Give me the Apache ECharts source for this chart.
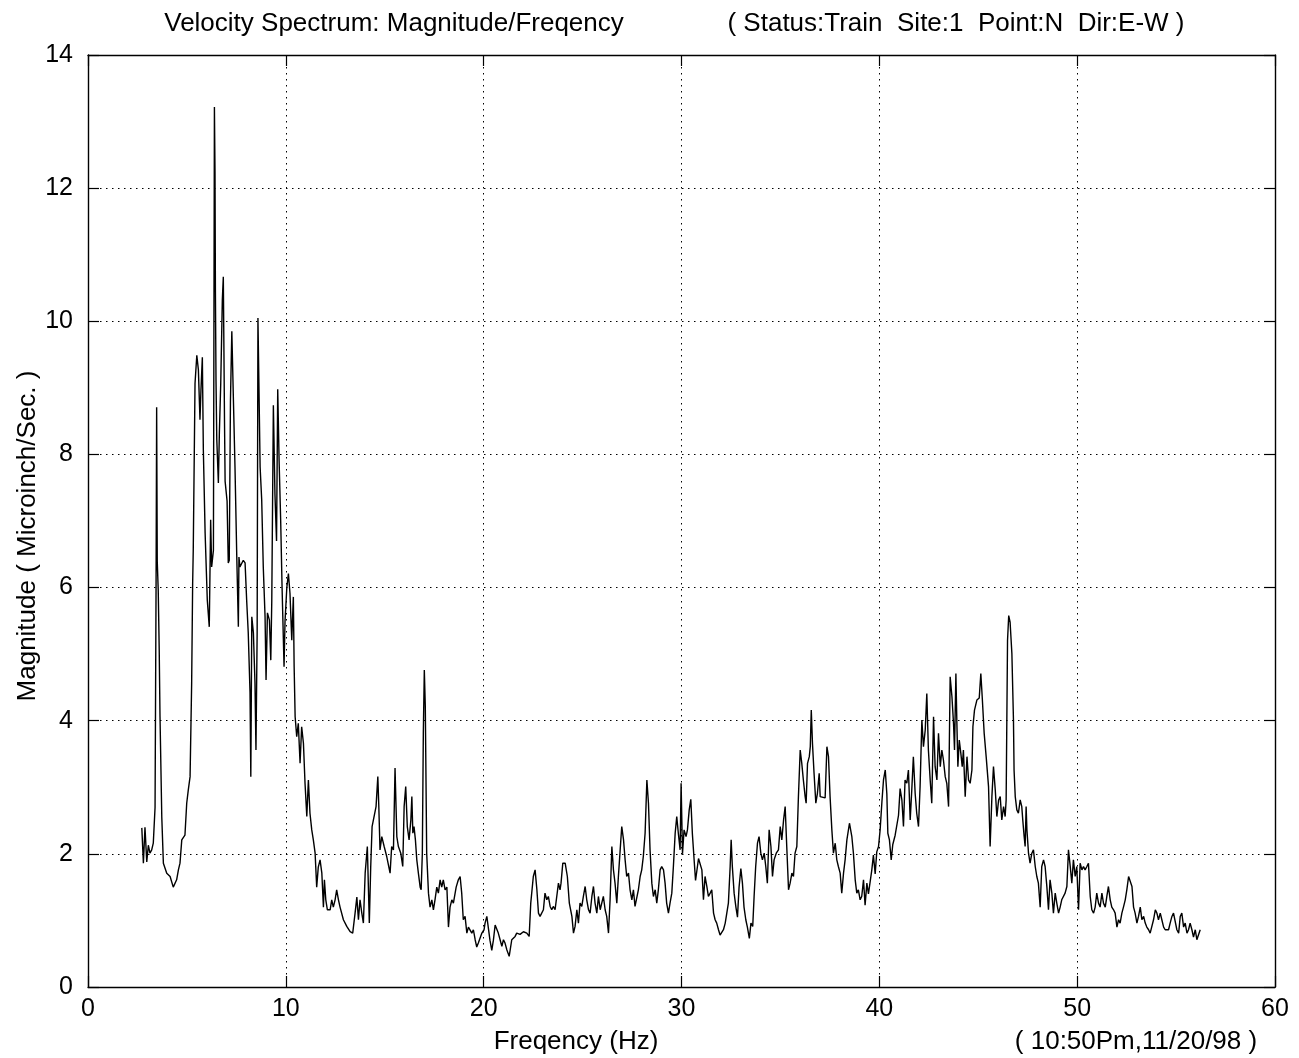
<!DOCTYPE html>
<html>
<head>
<meta charset="utf-8">
<script src="https://cdn.jsdelivr.net/npm/echarts@6/dist/echarts.min.js"></script>
<style>
html,body{margin:0;padding:0;background:#fff;}
#chart{width:1299px;height:1058px;}
</style>
</head>
<body>
<div id="chart"></div>
<script>
// ---- data: [frequency (Hz), magnitude (microinch/sec)] ----
const bandLow = [
[2.72,2.39],[2.80,1.86],[2.88,2.40],[2.97,1.88],[3.05,2.13],[3.13,2.01],[3.22,2.06],[3.30,2.16],[3.39,2.70],[3.44,6.0],[3.47,8.71],[3.50,6.4],[3.55,5.96],[3.60,5.06],[3.64,4.06],[3.73,2.55],[3.81,1.86],[3.98,1.71],[4.15,1.66],[4.31,1.50],[4.48,1.61],[4.57,1.76],[4.65,1.86],[4.74,2.21],[4.90,2.28],[4.99,2.76],[5.07,2.96],[5.16,3.16],[5.24,4.57],[5.29,6.07],[5.32,6.56],[5.41,9.07],[5.50,9.49],[5.58,9.27],[5.66,8.52],[5.71,8.97],[5.78,9.46],[5.83,8.07],[5.92,6.82],[6.03,5.81],[6.13,5.41],[6.20,7.02],[6.25,6.31],[6.34,6.56],[6.39,13.22],[6.42,12.23],[6.44,10.47],[6.47,9.12],[6.51,8.22],[6.59,7.57],[6.64,8.32],[6.71,9.07],[6.79,10.32],[6.84,10.67],[6.90,8.5],[6.93,7.6],[7.03,7.3],[7.09,6.37],[7.14,6.41],[7.20,8.8],[7.27,9.85],[7.35,8.82],[7.43,7.81],[7.52,6.46],[7.60,5.41],[7.63,6.46],[7.68,6.31],[7.77,6.31],[7.85,6.41],[7.94,6.37],[8.02,5.81],[8.10,5.32],[8.19,4.42],[8.23,3.16],[8.28,5.56],[8.36,5.32],[8.44,4.57],[8.49,3.56],[8.55,5.32],[8.59,10.05],[8.70,7.81],[8.78,7.32],[8.86,6.31],[8.95,5.56],[9.00,4.61],[9.07,5.62],[9.17,5.51],[9.24,4.91],[9.29,5.81],[9.37,8.74],[9.45,7.4],[9.53,6.7],[9.59,8.98],[9.66,7.9],[9.74,7.0],[9.81,6.0],[9.91,4.81],[9.96,5.5],[10.05,6.0],[10.13,6.21],[10.21,5.91],[10.30,5.21],[10.38,5.86],[10.42,4.81],[10.47,4.06],[10.55,3.76],[10.63,3.96],[10.72,3.36],[10.80,3.91],[10.89,3.66],[10.97,3.06],[11.06,2.56],[11.14,3.11],[11.22,2.61],[11.31,2.36],[11.39,2.21],[11.48,2.01],[11.56,1.50],[11.64,1.80],[11.73,1.91],[11.82,1.71],[11.90,1.20],[11.95,1.61]
];
const bandMid = [
[12.02,1.31],[12.10,1.16],[12.24,1.16],[12.32,1.31],[12.40,1.20],[12.49,1.31],[12.57,1.46],[12.66,1.31],[12.74,1.20],[12.91,1.01],[13.08,0.91],[13.25,0.83],[13.38,0.81],[13.50,1.11],[13.59,1.35],[13.67,1.01],[13.75,1.31],[13.84,1.11],[13.92,0.96],[14.01,1.71],[14.12,2.11],[14.22,0.96],[14.29,1.80],[14.36,2.41],[14.46,2.41],[14.56,2.71],[14.65,3.16],[14.70,2.71],[14.76,2.06],[14.85,2.26],[14.97,2.11],[15.10,1.96],[15.27,1.71],[15.35,2.11],[15.44,2.06],[15.52,3.29],[15.61,2.26],[15.69,2.11],[15.81,2.01],[15.91,1.81],[15.98,2.71],[16.06,3.01],[16.14,2.41],[16.23,2.21],[16.32,2.51],[16.37,2.86],[16.42,2.31],[16.48,2.41],[16.55,2.21],[16.62,1.91],[16.70,1.71],[16.79,1.50],[16.84,1.46],[16.90,2.01],[16.95,3.81],[17.00,4.76],[17.05,4.21],[17.12,2.01],[17.21,1.41],[17.29,1.20],[17.38,1.31],[17.46,1.16],[17.54,1.31],[17.63,1.50],[17.71,1.41],[17.80,1.61],[17.88,1.50],[17.96,1.61],[18.05,1.46],[18.14,1.50],[18.22,0.90],[18.30,1.20],[18.39,1.31],[18.47,1.26],[18.61,1.50],[18.72,1.61],[18.81,1.66],[18.89,1.41],[18.97,1.01],[19.06,1.06],[19.15,0.81],[19.23,0.90],[19.31,0.90],[19.40,0.81],[19.48,0.86],[19.57,0.71],[19.65,0.60],[19.73,0.66],[19.82,0.65],[19.91,0.81],[20.02,0.86],[20.07,0.96],[20.16,1.06],[20.24,1.06],[20.32,0.70],[20.41,0.55],[20.49,0.70],[20.58,0.93],[20.66,0.90],[20.74,0.81],[20.83,0.71],[20.92,0.61],[21.00,0.71],[21.08,0.66],[21.17,0.56],[21.29,0.46],[21.42,0.71],[21.59,0.76],[21.67,0.81],[21.76,0.81],[21.84,0.79],[22.01,0.83],[22.18,0.81],[22.30,0.76],[22.38,1.26],[22.51,1.66],[22.60,1.76],[22.69,1.46],[22.77,1.11],[22.85,1.06],[22.94,1.06],[23.02,1.16],[23.10,1.41],[23.19,1.31],[23.27,1.36],[23.36,1.21],[23.44,1.16],[23.52,1.21],[23.61,1.16],[23.70,1.16],[23.78,1.56],[23.86,1.46],[23.91,1.56],[24.00,1.86],[24.12,1.86],[24.23,1.66],[24.33,1.26],[24.46,1.06],[24.54,0.81],[24.62,0.91],[24.71,1.16],[24.79,0.96],[24.87,1.26],[24.96,1.21],[25.04,1.36],[25.13,1.51],[25.21,1.31],[25.30,1.16],[25.38,1.11],[25.47,1.36],[25.55,1.51],[25.63,1.26],[25.72,1.11],[25.80,1.36],[25.89,1.16],[25.97,1.16],[26.05,1.36],[26.14,1.16],[26.22,1.06],[26.31,0.81],[26.39,1.31],[26.48,2.11],[26.56,1.76],[26.64,1.56],[26.73,1.26],[26.81,1.66],[26.90,2.06],[26.98,2.41],[27.07,2.21],[27.15,1.91],[27.23,1.66],[27.32,1.71],[27.40,1.46],[27.49,1.31],[27.57,1.46],[27.65,1.21],[27.74,1.21],[27.82,1.46],[27.91,1.66],[27.99,1.76],[28.07,1.96],[28.16,2.31],[28.25,3.11],[28.33,2.76],[28.41,2.06],[28.50,1.56],[28.58,1.36],[28.67,1.46],[28.75,1.26],[28.83,1.46],[28.92,1.76],[29.00,1.81],[29.09,1.76],[29.17,1.56],[29.25,1.26],[29.34,1.11],[29.42,1.26],[29.51,1.41],[29.59,1.81],[29.68,2.31],[29.76,2.56],[29.84,2.31],[29.93,2.06]
];
const bandHigh = [
[29.98,3.06],[30.05,2.00],[30.13,2.36],[30.23,2.26],[30.30,2.36],[30.39,2.66],[30.47,2.82],[30.55,2.30],[30.64,1.90],[30.71,1.60],[30.77,1.60],[30.86,1.93],[30.94,1.91],[31.03,1.76],[31.11,1.31],[31.19,1.66],[31.28,1.51],[31.36,1.36],[31.45,1.41],[31.53,1.46],[31.62,1.11],[31.70,1.01],[31.78,0.96],[31.87,0.86],[31.95,0.78],[32.04,0.78],[32.12,0.86],[32.21,0.96],[32.29,1.11],[32.37,1.26],[32.46,1.81],[32.51,2.21],[32.57,1.81],[32.66,1.41],[32.75,1.20],[32.83,1.05],[32.91,1.50],[33.00,1.78],[33.08,1.56],[33.16,1.20],[33.25,1.01],[33.33,0.90],[33.43,0.73],[33.51,0.96],[33.60,0.91],[33.67,1.36],[33.75,1.81],[33.84,2.16],[33.92,2.26],[34.01,2.01],[34.09,1.91],[34.18,2.01],[34.26,1.81],[34.34,1.56],[34.43,2.36],[34.52,2.11],[34.60,1.66],[34.68,1.91],[34.79,2.01],[34.90,2.06],[34.99,2.41],[35.07,2.21],[35.16,2.51],[35.24,2.71],[35.32,2.11],[35.41,1.46],[35.49,1.56],[35.58,1.71],[35.66,1.66],[35.74,2.01],[35.83,2.11],[35.91,2.86],[36.00,3.56],[36.08,3.36],[36.16,3.11],[36.25,2.86],[36.30,2.76],[36.37,3.36],[36.46,3.46],[36.51,3.61],[36.56,4.16],[36.62,3.66],[36.70,3.21],[36.79,2.76],[36.87,2.91],[36.96,3.21],[37.01,2.86],[37.09,2.84],[37.26,2.84],[37.35,3.61],[37.43,3.46],[37.51,2.86],[37.60,2.36],[37.68,2.01],[37.77,2.16],[37.85,1.91],[37.93,1.81],[38.02,1.71],[38.10,1.41],[38.19,1.71],[38.27,1.91],[38.36,2.21],[38.49,2.46],[38.61,2.26],[38.69,2.01],[38.78,1.61],[38.86,1.41],[38.94,1.46],[39.03,1.31],[39.11,1.36],[39.20,1.61],[39.28,1.23],[39.37,1.56],[39.45,1.40],[39.54,1.40],[39.62,1.76],[39.70,1.98],[39.79,1.70],[39.87,2.03],[39.96,2.11],[40.04,2.36],[40.13,2.78],[40.21,3.11],[40.30,3.26],[40.38,2.90],[40.43,2.31],[40.51,2.21],[40.60,1.91],[40.68,2.14],[40.80,2.28],[40.89,2.28],[40.97,2.58],[41.05,2.98],[41.14,2.81],[41.22,2.41],[41.30,3.11],[41.39,3.06],[41.47,3.26],[41.56,2.51],[41.64,2.96],[41.72,3.46],[41.81,2.91],[41.89,2.61],[41.98,2.41],[42.06,3.01],[42.15,4.01],[42.23,3.61],[42.32,3.86],[42.40,4.41],[42.48,3.56],[42.57,3.11],[42.65,2.76],[42.74,4.06],[42.82,3.31],[42.91,3.11],[42.99,3.81],[43.08,3.31],[43.16,3.56],[43.24,3.41],[43.33,3.16],[43.41,3.06],[43.50,2.71],[43.58,4.66],[43.67,4.36],[43.75,3.96],[43.80,3.56],[43.87,4.71],[43.92,3.96],[43.97,3.31],[44.04,3.71],[44.12,3.51],[44.19,3.31],[44.25,3.56],[44.34,2.86],[44.43,3.46],[44.51,3.11],[44.59,3.06],[44.68,3.26],[44.73,3.91],[44.81,4.16],[44.93,4.31],[45.05,4.34],[45.13,4.71],[45.20,4.36],[45.30,3.81],[45.40,3.46],[45.52,3.01],[45.60,2.11],[45.69,2.86],[45.77,3.31],[45.86,2.96],[45.94,2.56],[46.03,2.81],[46.11,2.86],[46.19,2.51],[46.28,2.71],[46.36,2.56],[46.41,2.81],[46.48,5.21],[46.54,5.58],[46.61,5.48],[46.70,5.01],[46.78,4.01],[46.81,3.26],[46.87,2.86],[46.95,2.66],[47.03,2.61],[47.12,2.81],[47.20,2.71],[47.25,2.51],[47.32,2.26],[47.37,2.11],[47.42,2.71],[47.46,2.36],[47.54,2.01],[47.62,1.86],[47.71,2.01],[47.79,2.06],[47.88,1.81],[47.96,1.66],[48.04,1.56],[48.13,1.20],[48.21,1.81],[48.30,1.91],[48.38,1.81],[48.47,1.50],[48.55,1.16],[48.63,1.61],[48.72,1.41],[48.80,1.11],[48.89,1.41],[48.97,1.26],[49.06,1.11],[49.14,1.20],[49.22,1.31],[49.31,1.31],[49.39,1.41],[49.48,1.51],[49.56,2.06],[49.65,1.81],[49.73,1.56],[49.81,1.91],[49.90,1.66],[49.98,1.81],[50.07,1.16],[50.15,1.86],[50.24,1.76],[50.32,1.81],[50.40,1.76],[50.49,1.81],[50.57,1.86],[50.66,1.36],[50.74,1.16],[50.83,1.11],[50.91,1.20],[50.99,1.41],[51.08,1.26],[51.16,1.20],[51.25,1.41],[51.33,1.26],[51.42,1.20],[51.50,1.36],[51.58,1.51],[51.67,1.31],[51.75,1.20],[51.84,1.16],[51.92,1.11],[52.01,0.90],[52.09,1.01],[52.17,0.96],[52.26,1.11],[52.34,1.20],[52.43,1.31],[52.51,1.46],[52.60,1.66],[52.68,1.66],[52.77,1.51],[52.85,1.20],[52.93,1.11],[53.02,0.96],[53.10,1.06],[53.19,1.20],[53.27,1.01],[53.36,1.06],[53.44,0.96],[53.52,0.90],[53.61,0.86],[53.69,0.81],[53.78,0.81],[53.86,1.01],[53.95,1.16],[54.03,1.11],[54.11,1.01],[54.20,1.11],[54.28,1.01],[54.37,0.90],[54.45,0.86],[54.54,0.86],[54.62,0.86],[54.70,0.96],[54.79,1.06],[54.87,1.11],[54.96,1.11],[55.04,0.86],[55.13,0.81],[55.21,1.06],[55.29,1.11],[55.38,0.90],[55.46,0.96],[55.55,0.81],[55.63,0.86],[55.71,0.96],[55.80,0.86],[55.88,0.75],[55.97,0.86],[56.05,0.71],[56.13,0.73],[56.22,0.86]
];
const xTicks = [0, 10, 20, 30, 40, 50, 60];
const yTicks = [0, 2, 4, 6, 8, 10, 12, 14];
const titleMain = 'Velocity Spectrum: Magnitude/Freqency';
const titleInfo = '( Status:Train  Site:1  Point:N  Dir:E-W )';
const xLabel = 'Freqency (Hz)';
const yLabel = 'Magnitude ( Microinch/Sec. )';
const stamp = '( 10:50Pm,11/20/98 )';

const spectrum = bandLow.concat(bandMid, bandHigh);
const FONT = '"Liberation Sans", Arial, Helvetica, sans-serif';
const chart = echarts.init(document.getElementById('chart'), null, {renderer: 'canvas'});

const axisLine = {show: true, onZero: false, lineStyle: {color: '#000', width: 1.4}};
const tick = {show: true, inside: true, length: 11, lineStyle: {color: '#000', width: 1.2}};
const grid = {show: true, lineStyle: {color: '#000', width: 1, type: [1.5, 4.5]}};

function xAx(pos, main) {
  return {
    type: 'value', position: pos, min: xTicks[0], max: xTicks[xTicks.length - 1],
    interval: xTicks[1] - xTicks[0],
    axisLine: axisLine, axisTick: tick,
    axisLabel: {show: main, color: '#000', fontSize: 25, fontFamily: FONT, margin: 10},
    splitLine: main ? grid : {show: false}
  };
}
function yAx(pos, main) {
  return {
    type: 'value', position: pos, min: yTicks[0], max: yTicks[yTicks.length - 1],
    interval: yTicks[1] - yTicks[0],
    axisLine: axisLine, axisTick: tick,
    axisLabel: {show: main, color: '#000', fontSize: 25, fontFamily: FONT, margin: 15},
    splitLine: main ? grid : {show: false}
  };
}

function label(text, x, y, rot) {
  return {
    type: 'text', x: x, y: y, rotation: rot || 0, silent: true,
    style: {text: text, font: '26px ' + FONT, fill: '#000',
            textAlign: 'center', textVerticalAlign: 'middle', align: 'center', verticalAlign: 'middle'}
  };
}

chart.setOption({
  animation: false,
  backgroundColor: '#fff',
  grid: {left: 88, right: 24, top: 55, bottom: 71, containLabel: false},
  xAxis: [xAx('bottom', true), xAx('top', false)],
  yAxis: [yAx('left', true), yAx('right', false)],
  graphic: [
    label(titleMain, 394, 24),
    label(titleInfo, 956, 24),
    label(xLabel, 576, 1042),
    label(stamp, 1136, 1042),
    label(yLabel, 28, 536, Math.PI / 2)
  ],
  series: [{
    type: 'line', xAxisIndex: 0, yAxisIndex: 0, data: spectrum,
    showSymbol: false, symbol: 'none', smooth: false,
    lineStyle: {color: '#000', width: 1.4}
  }]
});
</script>
</body>
</html>
